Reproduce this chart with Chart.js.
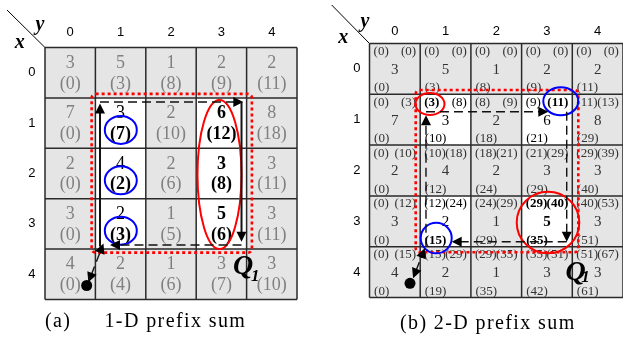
<!DOCTYPE html>
<html><head><meta charset="utf-8">
<script src="https://cdn.jsdelivr.net/npm/chart.js@4.4.1/dist/chart.umd.min.js"></script>
<style>html,body{margin:0;padding:0;background:#fff}canvas{display:block}</style>
</head><body>
<canvas id="c" width="623" height="338"></canvas>
<script>
// ---- data ----
const colLabels = ['0','1','2','3','4'];
const rowLabels = ['0','1','2','3','4'];
const cellValues = [
  [3,5,1,2,2],
  [7,3,2,6,8],
  [2,4,2,3,3],
  [3,2,1,5,3],
  [4,2,1,3,3]
];
// (a) 1-D prefix sum shown in brackets
const rowPrefix1D = [
  [0,3,8,9,11],
  [0,7,10,12,18],
  [0,2,6,8,11],
  [0,3,5,6,11],
  [0,4,6,7,10]
];
// (b) 2-D prefix sums shown at the corners of each cell
const prefixTopLeft = [
  [0,0,0,0,0],
  [0,3,8,9,11],
  [0,10,18,21,29],
  [0,12,24,29,40],
  [0,15,29,35,51]
];
const prefixTopRight = [
  [0,0,0,0,0],
  [3,8,9,11,13],
  [10,18,21,29,39],
  [12,24,29,40,53],
  [15,29,35,51,67]
];
const prefixBottomLeft = [
  [0,3,8,9,11],
  [0,10,18,21,29],
  [0,12,24,29,40],
  [0,15,29,35,51],
  [0,19,35,42,61]
];
const whiteCells1D = [[1,1],[2,1],[3,1],[1,3],[2,3],[3,3]];
const boldValue1D = [[1,3],[2,3],[3,3]];
const boldPrefix1D = [[1,1],[2,1],[3,1],[1,3],[2,3],[3,3]];
const whiteCells2D = [[1,1],[1,3],[3,1],[3,3]];
const bold2D = [[1,1,'tl'],[1,3,'tr'],[3,1,'bl'],[3,3,'tl'],[3,3,'tr'],[3,3,'val'],[3,3,'bl']];
const captionA = ['(a)', '1-D prefix sum'];
const captionB = '(b) 2-D prefix sum';
const queryLabel = ['Q', '1'];

// ---- helpers ----
const has = (list, r, c, k) => list.some(e => e[0] === r && e[1] === c && (k === undefined || e[2] === k));
const SERIF = '"Liberation Serif", "DejaVu Serif", serif';
const SANS = '"Liberation Sans", Arial, sans-serif';

function arrowHead(ctx, x1, y1, x2, y2, len, hw) {
  const a = Math.atan2(y2 - y1, x2 - x1);
  ctx.save();
  ctx.setLineDash([]);
  ctx.beginPath();
  ctx.moveTo(x2, y2);
  ctx.lineTo(x2 - len * Math.cos(a) + hw * Math.sin(a), y2 - len * Math.sin(a) - hw * Math.cos(a));
  ctx.lineTo(x2 - len * Math.cos(a) - hw * Math.sin(a), y2 - len * Math.sin(a) + hw * Math.cos(a));
  ctx.closePath();
  ctx.fill();
  ctx.restore();
}
function arrow(ctx, p1, p2, dashed, both) {
  const len = 10, hw = 5;
  const a = Math.atan2(p2[1] - p1[1], p2[0] - p1[0]);
  let sx = p1[0], sy = p1[1];
  if (both) { sx += len * 0.8 * Math.cos(a); sy += len * 0.8 * Math.sin(a); }
  const ex = p2[0] - len * 0.8 * Math.cos(a), ey = p2[1] - len * 0.8 * Math.sin(a);
  ctx.save();
  ctx.strokeStyle = '#111'; ctx.fillStyle = '#000';
  ctx.lineWidth = dashed ? 1.4 : 2;
  ctx.setLineDash(dashed ? [9, 5] : []);
  ctx.beginPath(); ctx.moveTo(sx, sy); ctx.lineTo(ex, ey); ctx.stroke();
  arrowHead(ctx, p1[0], p1[1], p2[0], p2[1], len, hw);
  if (both) arrowHead(ctx, p2[0], p2[1], p1[0], p1[1], len, hw);
  ctx.restore();
}
function ellipse(ctx, c, rx, ry, color, lw) {
  ctx.save();
  ctx.strokeStyle = color; ctx.lineWidth = lw; ctx.setLineDash([]);
  ctx.beginPath(); ctx.ellipse(c[0], c[1], rx, ry, 0, 0, Math.PI * 2); ctx.stroke();
  ctx.restore();
}
function dottedRect(ctx, p1, p2) {
  ctx.save();
  ctx.strokeStyle = '#ff0000'; ctx.lineWidth = 2.6; ctx.setLineDash([3, 3]);
  ctx.beginPath();
  ctx.roundRect(p1[0], p1[1], p2[0] - p1[0], p2[1] - p1[1], 4);
  ctx.stroke();
  ctx.restore();
}

const figurePlugin = {
  id: 'figure',
  beforeDraw(chart) {
    const ctx = chart.ctx;
    ctx.save(); ctx.fillStyle = '#fff'; ctx.fillRect(0, 0, chart.width, chart.height); ctx.restore();
  },
  afterDatasetsDraw(chart) {
    const ctx = chart.ctx;
    const S = chart.scales;
    const P = (side, u, v) => [S['x' + side].getPixelForValue(u), S['y' + side].getPixelForValue(v)];

    function drawGrid(side, whites) {
      const n = rowLabels.length, m = colLabels.length;
      for (let r = 0; r < n; r++) for (let c = 0; c < m; c++) {
        const a = P(side, c, r), b = P(side, c + 1, r + 1);
        ctx.fillStyle = has(whites, r, c) ? '#ffffff' : '#e5e5e5';
        ctx.fillRect(a[0], a[1], b[0] - a[0], b[1] - a[1]);
      }
      ctx.save();
      ctx.strokeStyle = '#2a2a2a'; ctx.lineWidth = 1.5;
      ctx.beginPath();
      for (let c = 0; c <= m; c++) { const a = P(side, c, 0), b = P(side, c, n); ctx.moveTo(a[0], a[1]); ctx.lineTo(b[0], b[1]); }
      for (let r = 0; r <= n; r++) { const a = P(side, 0, r), b = P(side, m, r); ctx.moveTo(a[0], a[1]); ctx.lineTo(b[0], b[1]); }
      ctx.stroke();
      ctx.restore();
      // axis labels
      ctx.save();
      ctx.fillStyle = '#000'; ctx.font = '13px ' + SANS; ctx.textAlign = 'center'; ctx.textBaseline = 'middle';
      const hv = side === 'L' ? -0.29 : -0.23;
      const ru = side === 'L' ? -0.26 : -0.25;
      colLabels.forEach((t, c) => { const p = P(side, c + 0.5, hv); ctx.fillText(t, p[0], p[1]); });
      rowLabels.forEach((t, r) => { const p = P(side, ru, r + 0.5); ctx.fillText(t, p[0], p[1]); });
      // corner diagonal
      const d0 = side === 'L' ? P(side, -0.754, -0.744) : P(side, -0.746, -0.758);
      const d1 = P(side, 0, 0);
      ctx.strokeStyle = '#000'; ctx.lineWidth = 1;
      ctx.beginPath(); ctx.moveTo(d0[0], d0[1]); ctx.lineTo(d1[0], d1[1]); ctx.stroke();
      ctx.font = 'italic bold 20px ' + SERIF;
      const py = side === 'L' ? P(side, -0.10, -0.45) : P(side, -0.09, -0.42);
      const px = side === 'L' ? P(side, -0.50, -0.09) : P(side, -0.52, -0.11);
      ctx.fillText('y', py[0], py[1]);
      ctx.fillText('x', px[0], px[1]);
      ctx.restore();
    }

    // ---------- (a) ----------
    drawGrid('L', whiteCells1D);
    ctx.save();
    ctx.textAlign = 'center'; ctx.textBaseline = 'middle';
    for (let r = 0; r < 5; r++) for (let c = 0; c < 5; c++) {
      const white = has(whiteCells1D, r, c);
      const col = white ? '#000' : '#808080';
      ctx.fillStyle = col;
      ctx.font = (has(boldValue1D, r, c) ? 'bold ' : '') + '18px ' + SERIF;
      let p = P('L', c + 0.5, r + 0.31);
      ctx.fillText(String(cellValues[r][c]), p[0], p[1]);
      ctx.font = (has(boldPrefix1D, r, c) ? 'bold ' : '') + '18px ' + SERIF;
      p = P('L', c + 0.5, r + 0.72);
      ctx.fillText('(' + rowPrefix1D[r][c] + ')', p[0], p[1]);
    }
    ctx.restore();

    // ---------- (b) ----------
    drawGrid('R', whiteCells2D);
    ctx.save();
    ctx.textBaseline = 'middle';
    for (let r = 0; r < 5; r++) for (let c = 0; c < 5; c++) {
      const white = has(whiteCells2D, r, c);
      const col = white ? '#000' : '#333';
      ctx.fillStyle = col;
      const f = (k, size) => (has(bold2D, r, c, k) ? 'bold ' : '') + size + 'px ' + SERIF;
      let p;
      ctx.font = f('tl', 13); ctx.textAlign = 'left';
      p = P('R', c + 0.08, r + 0.16); ctx.fillText('(' + prefixTopLeft[r][c] + ')', p[0], p[1]);
      ctx.font = f('tr', 13); ctx.textAlign = 'right';
      p = P('R', c + 0.92, r + 0.16); ctx.fillText('(' + prefixTopRight[r][c] + ')', p[0], p[1]);
      ctx.font = f('val', 15); ctx.textAlign = 'center';
      p = P('R', c + 0.5, r + 0.52); ctx.fillText(String(cellValues[r][c]), p[0], p[1]);
      ctx.font = f('bl', 13); ctx.textAlign = 'left';
      p = P('R', c + 0.09, r + 0.875); ctx.fillText('(' + prefixBottomLeft[r][c] + ')', p[0], p[1]);
    }
    ctx.restore();

    // ---------- overlays (a) ----------
    dottedRect(ctx, P('L', 0.925, 0.92), P('L', 4.105, 4.07));
    ellipse(ctx, P('L', 3.462, 2.52), 22, 74.5, '#ff0000', 2);
    [1, 2, 3].forEach(r => ellipse(ctx, P('L', 1.504, r + 0.635), 16, 14, '#0000ff', 2));
    arrow(ctx, P('L', 1.091, 3.95), P('L', 1.091, 1.11), false);
    arrow(ctx, P('L', 1.091, 1.081), P('L', 3.935, 1.081), true);
    arrow(ctx, P('L', 3.899, 1.081), P('L', 3.899, 3.853), false);
    arrow(ctx, P('L', 3.899, 3.919), P('L', 1.29, 3.919), true);
    arrow(ctx, P('L', 0.86, 4.66), P('L', 1.16, 3.89), true, true);
    ctx.save(); ctx.fillStyle = '#000';
    let dp = P('L', 0.827, 4.722); ctx.beginPath(); ctx.arc(dp[0], dp[1], 5.5, 0, Math.PI * 2); ctx.fill();
    ctx.restore();

    // ---------- overlays (b) ----------
    dottedRect(ctx, P('R', 0.911, 0.915), P('R', 4.118, 4.11));
    ellipse(ctx, P('R', 1.193, 1.19), 14.5, 11, '#ff0000', 2);
    ellipse(ctx, P('R', 3.773, 1.136), 17.5, 14, '#0000ff', 2);
    ellipse(ctx, P('R', 1.316, 3.829), 15.5, 15.3, '#0000ff', 2);
    ellipse(ctx, P('R', 3.521, 3.524), 31.3, 30.8, '#ff0000', 2);
    arrow(ctx, P('R', 1.114, 4.0), P('R', 1.114, 1.41), true);
    arrow(ctx, P('R', 1.114, 1.343), P('R', 3.527, 1.343), true);
    arrow(ctx, P('R', 3.89, 1.343), P('R', 3.89, 3.902), true);
    arrow(ctx, P('R', 3.89, 3.902), P('R', 1.621, 3.902), true);
    arrow(ctx, P('R', 0.86, 4.62), P('R', 1.09, 4.03), true, true);
    ctx.save(); ctx.fillStyle = '#000';
    dp = P('R', 0.799, 4.72); ctx.beginPath(); ctx.arc(dp[0], dp[1], 5.5, 0, Math.PI * 2); ctx.fill();
    ctx.restore();

    // Q1 labels
    ctx.save();
    ctx.fillStyle = '#000'; ctx.textAlign = 'center'; ctx.textBaseline = 'middle';
    [['L', 3.93, 4.36, 4.17, 4.54], ['R', 4.063, 4.51, 4.26, 4.61]].forEach(q => {
      ctx.font = 'italic bold 28px ' + SERIF;
      let p = P(q[0], q[1], q[2]); ctx.fillText(queryLabel[0], p[0], p[1]);
      ctx.font = 'italic bold 17px ' + SERIF;
      p = P(q[0], q[3], q[4]); ctx.fillText(queryLabel[1], p[0], p[1]);
    });
    ctx.restore();

    // captions
    ctx.save();
    ctx.fillStyle = '#000'; ctx.textBaseline = 'middle'; ctx.textAlign = 'left';
    ctx.font = '20px ' + SERIF;
    ctx.letterSpacing = '1.4px';
    let cp = P('L', 0.0, 5.45); ctx.fillText(captionA[0], cp[0], cp[1]);
    cp = P('L', 1.18, 5.45); ctx.fillText(captionA[1], cp[0], cp[1]);
    cp = P('R', 0.6, 5.52); ctx.fillText(captionB, cp[0], cp[1]);
    ctx.restore();
  }
};

const centerPoints = () => {
  const pts = [];
  cellValues.forEach((row, r) => row.forEach((v, c) => pts.push({ x: c + 0.5, y: r + 0.5 })));
  return pts;
};

new Chart(document.getElementById('c'), {
  type: 'scatter',
  data: {
    datasets: [
      { label: '1-D', data: centerPoints(), xAxisID: 'xL', yAxisID: 'yL', pointRadius: 0 },
      { label: '2-D', data: centerPoints(), xAxisID: 'xR', yAxisID: 'yR', pointRadius: 0 }
    ]
  },
  options: {
    responsive: false,
    animation: false,
    devicePixelRatio: 1,
    layout: { padding: 0 },
    plugins: { legend: { display: false }, tooltip: { enabled: false }, title: { display: false } },
    scales: {
      xL: { type: 'linear', min: -0.8929, max: 11.4683, display: false },
      yL: { type: 'linear', reverse: true, min: -0.9425, max: 5.7639, display: false },
      xR: { type: 'linear', min: -7.288, max: 5.0, display: false },
      yR: { type: 'linear', reverse: true, min: -0.8563, max: 5.797, display: false }
    }
  },
  plugins: [figurePlugin]
});
</script>
</body></html>
